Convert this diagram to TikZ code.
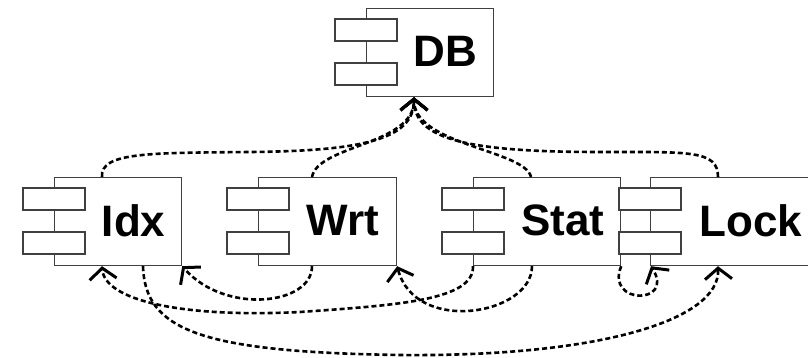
\documentclass[tikz,border=0pt]{standalone}
\usepackage{fontspec}
\setmainfont{Liberation Sans}
\usetikzlibrary{arrows.meta, calc}

\newcommand{\component}[5]{%
    \node [compbox, minimum width=#4] (#1) at (#2, #3) {};
    \draw [comptab] ($(#1.north west)+(-31, 11)$) rectangle +(62, 22);
    \draw [comptab] ($(#1.north west)+(-31, 55)$) rectangle +(62, 22);
    \node [complabel] (#1txt) at ([xshift=15.5, yshift=1]#1.center) {#5};
}

\begin{document}
\begin{tikzpicture}[x=1pt, y=-1pt,
        compbox/.style={draw=black!75, line width=1.2pt, fill=white, minimum height=88, inner sep=0, anchor=north west},
        comptab/.style={draw=black!75, line width=1.2pt, fill=white},
        complabel/.style={font=\fontsize{44}{48}\selectfont\bfseries, inner sep=0},
        dep/.style={line width=2.6pt, dash pattern=on 5pt off 3pt, -{Straight Barb[length=11pt, width=27pt, line width=3pt]}}]
            \clip (0, 0) rectangle (808, 358);

            \component{db}{366}{8}{127}{DB}
            \component{idx}{54}{177}{127}{Idx}
            \component{wrt}{258}{177}{138}{Wrt}
            \component{stat}{473}{177}{147}{Stat}
            \component{lock}{650}{177}{169}{Lock}

            \draw [dep] ([xshift=48]idx.north west) .. controls (100, 152) and (150, 153) .. (250, 152) .. controls (360, 151) and (414, 140) .. ([xshift=48]db.south west);
            \draw [dep] ([xshift=54]wrt.north west) .. controls (318, 145) and (414, 145) .. ([xshift=48]db.south west);
            \draw [dep] ([xshift=58]stat.north west) .. controls (525, 150) and (414, 145) .. ([xshift=48]db.south west);
            \draw [dep] ([xshift=68]lock.north west) .. controls (718, 150) and (690, 152) .. (600, 152) .. controls (470, 152) and (414, 140) .. ([xshift=48]db.south west);

            \draw [dep] (stat.south west) .. controls (474, 300) and (400, 305) .. (300, 312) .. controls (180, 318) and (105, 300) .. ([xshift=48]idx.south west);
            \draw [dep] ([xshift=54]wrt.south west) .. controls (312, 305) and (225, 315) .. (idx.south east);
            \draw [dep] ([xshift=89]idx.south west) .. controls (145, 330) and (200, 352) .. (400, 355) .. controls (600, 357) and (720, 320) .. ([xshift=68]lock.south west);
            \draw [dep] ([xshift=59]stat.south west) .. controls (532, 315) and (415, 335) .. (wrt.south east);
            \draw [dep] (stat.south east) .. controls (605, 305) and (675, 305) .. ([xshift=1]lock.south west);

        \end{tikzpicture}
\end{document}
